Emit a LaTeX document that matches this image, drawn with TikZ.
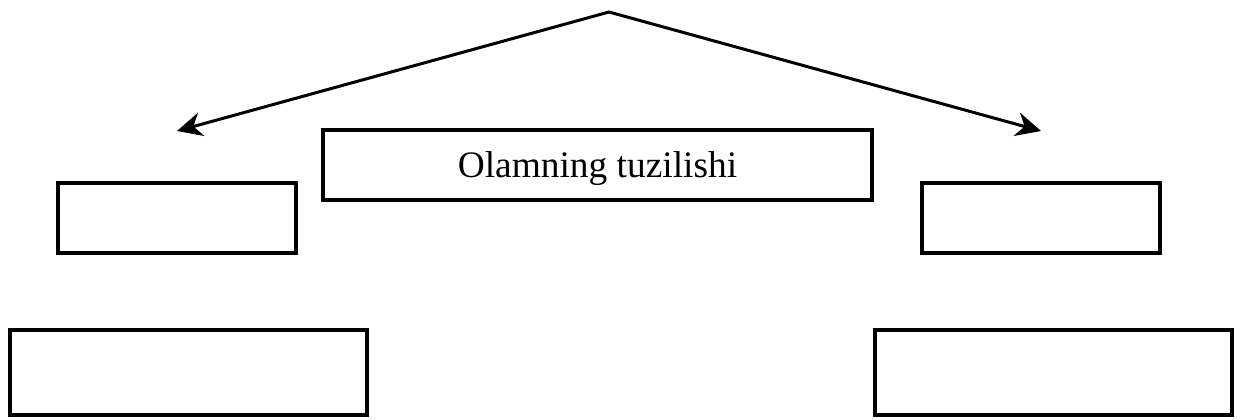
\documentclass[tikz,border=0pt]{standalone}
\usepackage{fontspec}
\setmainfont{Liberation Serif}
\usetikzlibrary{arrows.meta}
\tikzset{
    panel/.style={draw, line width=2pt, inner sep=0pt},
    fork/.style={line width=1.5pt, line join=miter,
        {Stealth[length=12.5pt, width=12pt, inset=4pt]}-{Stealth[length=12.5pt, width=12pt, inset=4pt]}}
}
\begin{document}
\begin{tikzpicture}[x=0.5pt, y=-0.5pt]
\useasboundingbox (0,0) rectangle (1243,419);

\coordinate (apex) at (609,12);
\coordinate (left-tip) at (177,131);
\coordinate (right-tip) at (1041,131);

\node[panel, minimum width=274.5pt, minimum height=35pt, text depth=0pt,
    font=\fontsize{18.7}{22}\selectfont] (title) at (597.5,165) {Olamning tuzilishi};

\node[panel, minimum width=119pt, minimum height=35pt] (left-box) at (177,218) {};
\node[panel, minimum width=119pt, minimum height=35pt] (right-box) at (1041,218) {};

\node[panel, minimum width=178.5pt, minimum height=42.5pt] (left-low) at (188.5,372.5) {};
\node[panel, minimum width=178.5pt, minimum height=42.5pt] (right-low) at (1053.5,372.5) {};

\draw[fork] (left-tip) -- (apex) -- (right-tip);
\end{tikzpicture}
\end{document}
